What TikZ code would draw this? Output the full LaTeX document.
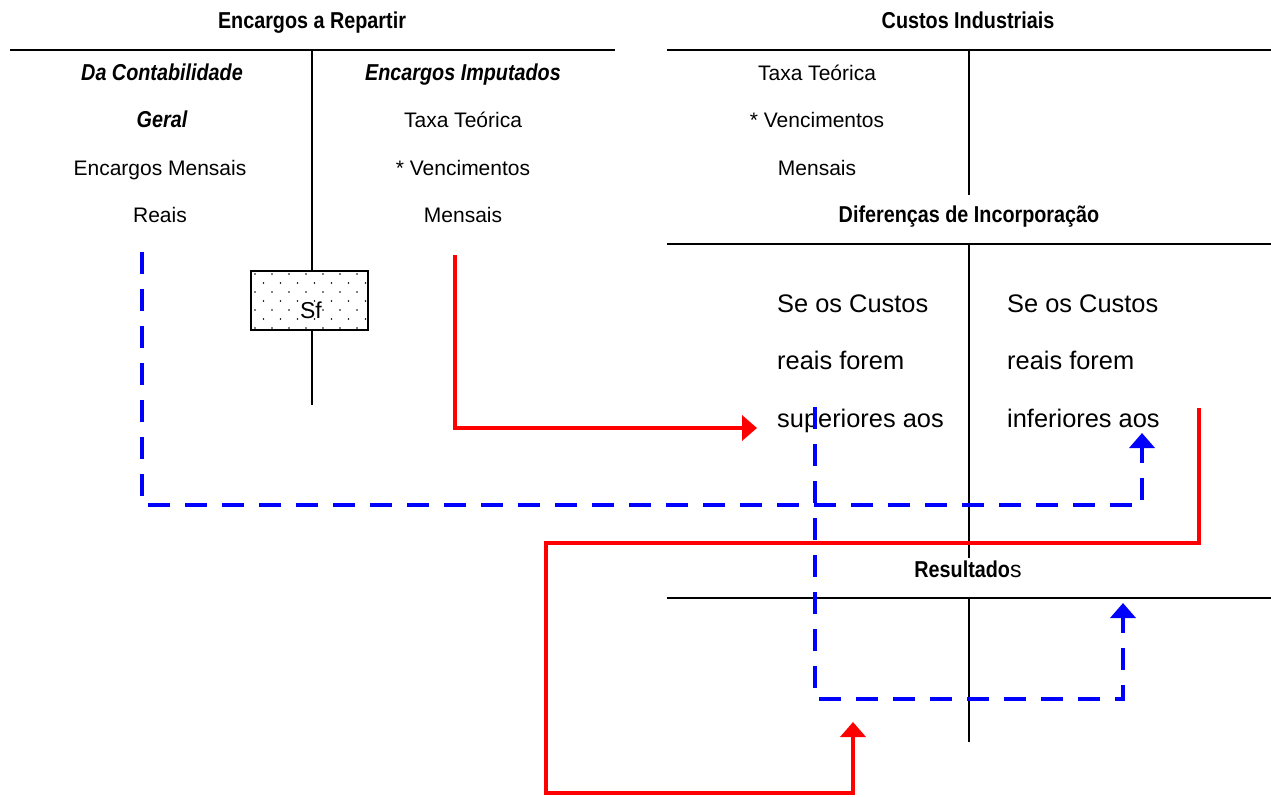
\documentclass[tikz,border=0pt]{standalone}
\usepackage{fontspec}
\setmainfont{Liberation Sans}
\newfontfamily\headfont[FakeStretch=0.86]{Liberation Sans}
\usetikzlibrary{arrows.meta,patterns}

% sparse staggered dot fill for the balance box
\pgfdeclarepatternformonly{sparsedots}{\pgfqpoint{-1pt}{-1pt}}{\pgfqpoint{18pt}{19pt}}{\pgfqpoint{17pt}{18pt}}{%
  \pgfpathcircle{\pgfqpoint{0pt}{0pt}}{0.9pt}%
  \pgfpathcircle{\pgfqpoint{8.5pt}{9pt}}{0.9pt}%
  \pgfusepath{fill}%
}

\tikzset{
  txt/.style={font=\fontsize{21}{25}\selectfont, anchor=base, inner sep=0pt},
  bigtxt/.style={font=\fontsize{25.4}{30}\selectfont, anchor=base west, inner sep=0pt},
  head/.style={font=\headfont\bfseries\fontsize{23}{27}\selectfont, anchor=base, inner sep=0pt},
  ithead/.style={font=\headfont\bfseries\itshape\fontsize{23}{27}\selectfont, anchor=base, inner sep=0pt},
  rule/.style={line width=2.2pt},
  sfbox/.style={draw, line width=2.4pt, pattern=sparsedots, minimum width=117pt, minimum height=59pt, inner sep=0pt},
  redflow/.style={draw=red, line width=4.5pt, -{Triangle[length=15pt,width=25pt]}},
  blueflow/.style={draw=blue, line width=4.5pt, dash pattern=on 22pt off 15pt, -{Triangle[length=15pt,width=25pt]}},
}

\begin{document}
\begin{tikzpicture}[x=1pt, y=-1pt]
\useasboundingbox (0,0) rectangle (1271,796);

% ---- Encargos a Repartir ----
\node[head] (encH) at (312,28) {Encargos a Repartir};
\draw[rule] (10,50) -- (615,50);
\node[ithead] (dcg1) at (162,80) {Da Contabilidade};
\node[ithead] (dcg2) at (162,127.5) {Geral};
\node[txt] (em1) at (160,175) {Encargos Mensais};
\node[txt] (em2) at (160,222.5) {Reais};
\node[ithead] (ei) at (463,80) {Encargos Imputados};
\node[txt] (tt1) at (463,127.5) {Taxa Teórica};
\node[txt] (tt2) at (463,175) {* Vencimentos};
\node[txt] (tt3) at (463,222.5) {Mensais};
\node[sfbox] (sf) at (309.5,300.5) {};
\node[font=\fontsize{23}{27}\selectfont, anchor=base, inner sep=0pt] (sft) at (311,318) {Sf};
\coordinate (encTop) at (312,50);
\coordinate (encBot) at (312,405);
\draw[rule] (encTop) -- (encTop |- sf.north);
\draw[rule] (encBot |- sf.south) -- (encBot);

% ---- Custos Industriais ----
\node[head] (ciH) at (968,28) {Custos Industriais};
\draw[rule] (667,50) -- (1271,50);
\draw[rule] (969,50) -- (969,195);
\node[txt] (ct1) at (817,80) {Taxa Teórica};
\node[txt] (ct2) at (817,127.5) {* Vencimentos};
\node[txt] (ct3) at (817,175) {Mensais};

% ---- Diferenças de Incorporação ----
\node[head] (diH) at (969,222.5) {Diferenças de Incorporação};
\draw[rule] (667,244) -- (1271,244);
\draw[rule] (969,244) -- (969,558);
\node[bigtxt] (s1) at (777,312) {Se os Custos};
\node[bigtxt] (s2) at (777,369.5) {reais forem};
\node[bigtxt] (s3) at (777,427) {superiores aos};
\node[bigtxt] (i1) at (1007,312) {Se os Custos};
\node[bigtxt] (i2) at (1007,369.5) {reais forem};
\node[bigtxt] (i3) at (1007,427) {inferiores aos};

% ---- Resultados ----
\node[head] (reH) at (968,577) {Resultado{\normalfont\fontsize{23}{27}\selectfont s}};
\draw[rule] (667,598) -- (1271,598);
\draw[rule] (969,598) -- (969,742);

% ---- flows ----
\coordinate (impOut) at (455,255);
\coordinate (supIn) at (757,428);
\coordinate (realOut) at (142,252);
\coordinate (infA) at (1142,505);
\coordinate (infIn) at (1142,433);
\coordinate (supOut) at (815,407);
\coordinate (resA) at (1123,699);
\coordinate (resIn) at (1123,603);
\coordinate (infOut) at (1199,408);
\coordinate (lowA) at (546,543);
\coordinate (lowB) at (853,793);
\coordinate (lowIn) at (853,722);

\draw[redflow] (impOut) |- (supIn);
\draw[blueflow] (realOut) |- (infA) -- (infIn);
\draw[blueflow] (supOut) |- (resA) -- (resIn);
\draw[redflow] (infOut) |- (lowA) |- (lowB) -- (lowIn);
\end{tikzpicture}
\end{document}
